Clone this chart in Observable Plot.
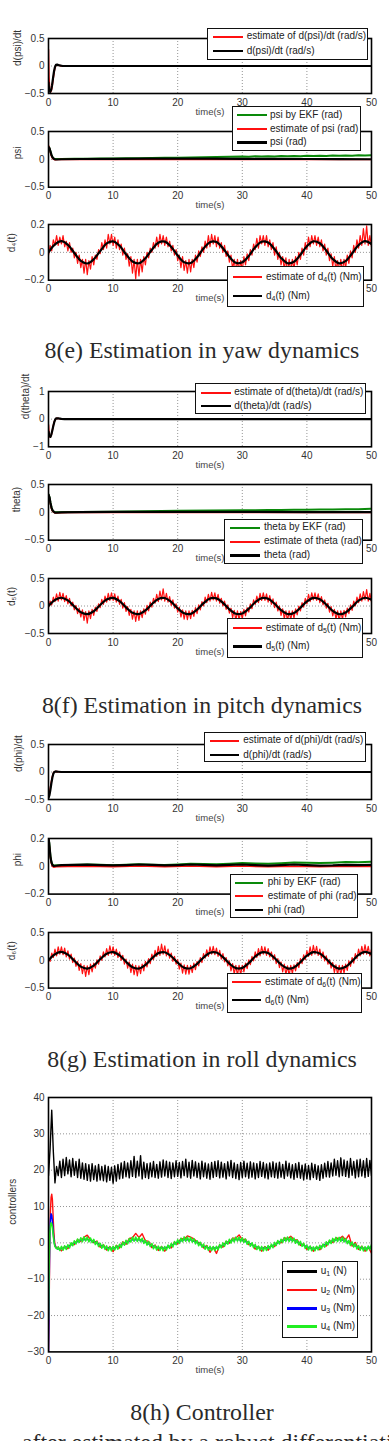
<!DOCTYPE html>
<html>
<head>
<meta charset="utf-8">
<script src="https://cdn.jsdelivr.net/npm/d3@7"></script>
<script src="https://cdn.jsdelivr.net/npm/@observablehq/plot@0.6"></script>
<style>
  html, body { margin: 0; padding: 0; background: #fff; }
  #root { position: relative; width: 389px; height: 1441px; overflow: hidden; background: #fff; }
  #root svg.panel { position: absolute; left: 0; overflow: visible; }
  .leg { position: absolute; box-sizing: border-box; border: 1.3px solid #111; background: #fff; }
  .sw { position: absolute; }
  .lt { position: absolute; font: 10px "Liberation Sans", Arial, sans-serif; line-height: 12px; color: #222; white-space: nowrap; }
  .lt sub { font-size: 7px; vertical-align: -2px; line-height: 0; }
</style>
</head>
<body>
<div id="root"></div>
<script>
// ---------- time axis ----------
const xTicks = [0, 10, 20, 30, 40, 50];
// tick labels left visible where a legend box sits over the axis
const xTicksOpen = [0, 10, 20, 50];

// ---------- yaw: d(psi)/dt, psi, d4 ----------
const dpsiEst = [[0,0.3],[0.08,-0.2],[0.2,-0.46],[0.35,-0.47],[0.5,-0.42],[0.65,-0.3],[0.8,-0.17],[0.95,-0.06],[1.1,0],[1.3,0.02],[1.6,0.015],[2,0],[50,0]];
const dpsi = [[0,-0.3],[0.1,-0.45],[0.25,-0.47],[0.4,-0.44],[0.55,-0.35],[0.7,-0.22],[0.85,-0.1],[1.0,-0.02],[1.15,0.02],[1.35,0.025],[1.7,0.01],[2.2,0],[50,0]];

const psiEKF = [[0,0.22],[0.15,0.2],[0.3,0.14],[0.45,0.08],[0.6,0.04],[0.8,0.015],[1.0,0.005],[1.5,0.005],[2,0.006],[4,0.009],[6,0.011],[8,0.013],[10,0.015],[12,0.018],[14,0.021],[16,0.024],[18,0.027],[20,0.03],[22,0.034],[24,0.038],[26,0.042],[28,0.046],[30,0.05],[31,0.047],[32,0.054],[33,0.05],[34,0.057],[35,0.052],[36,0.059],[37,0.054],[38,0.061],[39,0.056],[40,0.063],[41,0.058],[42,0.066],[43,0.061],[44,0.069],[45,0.063],[46,0.071],[47,0.066],[48,0.074],[49,0.069],[50,0.076]];
const psiEst = [[0,0.25],[0.15,0.19],[0.3,0.12],[0.45,0.06],[0.6,0.02],[0.8,0],[1.0,-0.008],[1.5,-0.005],[3,-0.004],[50,-0.004]];
const psi = [[0,0.22],[0.15,0.2],[0.3,0.14],[0.45,0.08],[0.6,0.04],[0.8,0.012],[1.0,0],[1.3,-0.003],[2,0.002],[5,0.006],[10,0.01],[15,0.012],[20,0.013],[25,0.012],[30,0.01],[35,0.008],[40,0.006],[45,0.004],[50,0.002]];

// estimate of d4, sampled every 0.25 s
const d4Est = [
-0.02,0.05,0.01,0.09,0.05,0.12,0.05,0.11,0.06,0.12,
0.04,0.08,0.01,0.07,0.00,0.03,-0.04,0.00,-0.08,-0.02,
-0.11,-0.05,-0.15,-0.05,-0.16,-0.06,-0.12,-0.03,-0.09,-0.02,
-0.05,0.02,-0.01,0.07,0.02,0.09,0.03,0.13,0.06,0.13,
0.05,0.11,0.03,0.09,0.02,0.06,-0.02,0.03,-0.05,-0.01,
-0.10,-0.03,-0.15,-0.05,-0.19,-0.05,-0.17,-0.05,-0.14,-0.03,
-0.09,0.00,-0.04,0.03,0.00,0.07,0.03,0.11,0.04,0.13,
0.06,0.12,0.05,0.11,0.04,0.08,0.01,0.05,-0.02,0.02,
-0.06,-0.02,-0.11,-0.03,-0.13,-0.06,-0.15,-0.05,-0.14,-0.05,
-0.11,-0.02,-0.07,0.01,-0.03,0.04,0.00,0.08,0.03,0.12,
0.04,0.13,0.06,0.12,0.04,0.11,0.03,0.07,0.00,0.05,
-0.03,0.01,-0.07,-0.02,-0.12,-0.05,-0.15,-0.05,-0.14,-0.06,
-0.13,-0.03,-0.09,-0.01,-0.06,0.02,-0.02,0.06,0.02,0.10,
0.03,0.12,0.06,0.12,0.05,0.12,0.04,0.09,0.02,0.07,
-0.02,0.04,-0.05,0.00,-0.09,-0.03,-0.12,-0.04,-0.15,-0.05,
-0.14,-0.05,-0.12,-0.03,-0.09,0.00,-0.05,0.03,-0.02,0.07,
0.02,0.11,0.04,0.12,0.06,0.12,0.05,0.11,0.04,0.09,
0.01,0.06,-0.02,0.03,-0.06,-0.01,-0.10,-0.03,-0.13,-0.06,
-0.15,-0.05,-0.14,-0.05,-0.11,-0.02,-0.08,0.01,-0.04,0.05,
0.00,0.09,0.03,0.12,0.05,0.17,0.06,0.19,0.05,0.12,
0.04];
// true d4, sampled every 1 s
const d4True = [0,0.057,0.080,0.054,-0.005,-0.061,-0.080,-0.050,0.009,0.064,0.079,0.047,-0.014,-0.066,-0.078,-0.043,0.019,0.069,0.077,0.039,-0.023,-0.071,-0.076,-0.035,0.027,0.073,0.074,0.030,-0.032,-0.075,-0.072,-0.026,0.036,0.076,0.070,0.022,-0.040,-0.078,-0.068,-0.017,0.044,0.079,0.065,0.013,-0.048,-0.079,-0.063,-0.008,0.052,0.080,0.060];

// ---------- pitch: d(theta)/dt, theta, d5 ----------
const dthetaEst = [[0,-0.2],[0.1,-0.55],[0.25,-0.66],[0.4,-0.6],[0.55,-0.45],[0.7,-0.28],[0.85,-0.13],[1.0,-0.03],[1.15,0.02],[1.4,0.03],[1.8,0.01],[2.5,0],[50,0]];
const dtheta = [[0,-0.45],[0.15,-0.62],[0.3,-0.64],[0.45,-0.55],[0.6,-0.4],[0.75,-0.24],[0.9,-0.1],[1.05,-0.01],[1.2,0.03],[1.5,0.03],[2,0.01],[2.5,0],[50,0]];

const thetaEKF = [[0,0.32],[0.15,0.27],[0.3,0.17],[0.45,0.09],[0.6,0.04],[0.8,0.01],[1.0,0],[1.5,0],[3,0.004],[5,0.006],[10,0.012],[15,0.018],[20,0.028],[25,0.032],[30,0.036],[32,0.036],[34,0.041],[36,0.04],[38,0.046],[40,0.045],[42,0.05],[44,0.049],[46,0.055],[48,0.056],[50,0.064]];
const thetaEst = [[0,0.3],[0.15,0.25],[0.3,0.15],[0.45,0.07],[0.6,0.025],[0.8,0],[1.0,-0.01],[1.5,-0.008],[3,-0.005],[50,-0.005]];
const theta = [[0,0.32],[0.15,0.27],[0.3,0.17],[0.45,0.09],[0.6,0.04],[0.8,0.012],[1.0,-0.005],[1.3,-0.006],[2,0],[5,0.004],[10,0.008],[20,0.01],[30,0.008],[40,0.005],[50,0.004]];

const d5Est = [
-0.03,0.09,0.02,0.16,0.08,0.22,0.09,0.25,0.11,0.23,
0.08,0.19,0.04,0.14,0.00,0.07,-0.07,0.01,-0.14,-0.04,
-0.20,-0.07,-0.26,-0.10,-0.31,-0.09,-0.23,-0.06,-0.17,-0.02,
-0.10,0.04,-0.03,0.12,0.03,0.18,0.07,0.23,0.10,0.24,
0.10,0.22,0.07,0.18,0.03,0.12,-0.04,0.06,-0.10,-0.01,
-0.17,-0.06,-0.24,-0.09,-0.28,-0.09,-0.26,-0.09,-0.21,-0.05,
-0.15,0.01,-0.09,0.07,-0.02,0.14,0.05,0.21,0.08,0.27,
0.11,0.31,0.09,0.23,0.07,0.17,0.01,0.11,-0.04,0.04,
-0.11,-0.02,-0.20,-0.07,-0.24,-0.09,-0.25,-0.09,-0.23,-0.08,
-0.19,-0.03,-0.14,0.02,-0.07,0.08,0.00,0.16,0.06,0.21,
0.09,0.25,0.11,0.24,0.09,0.21,0.05,0.14,0.00,0.09,
-0.06,0.02,-0.13,-0.04,-0.21,-0.08,-0.26,-0.09,-0.25,-0.10,
-0.23,-0.06,-0.18,-0.03,-0.11,0.04,-0.05,0.11,0.03,0.18,
0.06,0.23,0.10,0.24,0.10,0.22,0.07,0.19,0.03,0.13,
-0.03,0.07,-0.09,0.00,-0.17,-0.05,-0.23,-0.09,-0.27,-0.09,
-0.25,-0.09,-0.22,-0.05,-0.16,0.00,-0.09,0.06,-0.02,0.14,
0.04,0.21,0.08,0.24,0.11,0.24,0.10,0.22,0.06,0.17,
0.02,0.11,-0.04,0.05,-0.11,-0.01,-0.18,-0.06,-0.24,-0.09,
-0.27,-0.09,-0.24,-0.08,-0.20,-0.04,-0.14,0.02,-0.08,0.09,
0.00,0.16,0.06,0.22,0.09,0.26,0.11,0.30,0.09,0.23,
0.07];
const d5True = [0,0.108,0.150,0.101,-0.009,-0.114,-0.149,-0.095,0.018,0.119,0.148,0.088,-0.026,-0.124,-0.147,-0.081,0.035,0.129,0.145,0.073,-0.043,-0.133,-0.142,-0.065,0.051,0.137,0.139,0.057,-0.060,-0.140,-0.136,-0.049,0.068,0.143,0.132,0.041,-0.075,-0.146,-0.128,-0.032,0.083,0.147,0.123,0.024,-0.090,-0.149,-0.117,-0.015,0.097,0.150,0.112];

// ---------- roll: d(phi)/dt, phi, d6 ----------
const dphiEst = [[0,-0.43],[0.15,-0.38],[0.3,-0.28],[0.45,-0.17],[0.6,-0.08],[0.75,-0.02],[0.9,0.005],[1.2,0.01],[2,0],[50,0]];
const dphi = [[0,-0.47],[0.15,-0.42],[0.3,-0.32],[0.45,-0.2],[0.6,-0.1],[0.75,-0.03],[0.9,0],[1.1,0.01],[1.5,0.005],[2,0],[50,0]];

const phiEKF = [[0,0.2],[0.1,0.17],[0.2,0.12],[0.3,0.07],[0.45,0.03],[0.6,0.012],[0.8,0.006],[1.5,0.008],[3,0.01],[5,0.012],[6,0.013],[8,0.011],[10,0.008],[12,0.011],[14,0.015],[16,0.012],[18,0.01],[20,0.013],[22,0.018],[24,0.016],[26,0.014],[28,0.018],[30,0.023],[32,0.021],[34,0.019],[36,0.022],[38,0.027],[40,0.025],[42,0.023],[44,0.026],[46,0.031],[48,0.029],[50,0.033]];
const phiEst = [[0,0.2],[0.1,0.16],[0.2,0.11],[0.3,0.06],[0.45,0.02],[0.6,0],[0.8,-0.006],[1.2,-0.004],[3,-0.002],[6,0],[10,-0.004],[14,0.002],[18,-0.004],[22,0.003],[26,-0.003],[30,0.002],[34,-0.004],[38,0.001],[42,-0.004],[46,0],[50,-0.002]];
const phi = [[0,0.2],[0.1,0.17],[0.2,0.12],[0.3,0.07],[0.45,0.03],[0.6,0.01],[0.8,0.002],[1.2,0.004],[2,0.008],[4,0.01],[6,0.012],[8,0.009],[10,0.006],[12,0.009],[14,0.013],[16,0.01],[18,0.006],[20,0.009],[22,0.013],[24,0.01],[26,0.006],[28,0.01],[30,0.013],[32,0.009],[34,0.005],[36,0.009],[38,0.013],[40,0.009],[42,0.005],[44,0.006],[46,0.01],[48,0.008],[50,0.01]];

const d6Est = [
0.02,-0.02,0.13,0.05,0.20,0.08,0.24,0.11,0.24,0.10,
0.22,0.06,0.17,0.02,0.11,-0.04,0.04,-0.11,-0.02,-0.18,
-0.06,-0.24,-0.09,-0.29,-0.10,-0.26,-0.07,-0.21,-0.05,-0.14,
0.01,-0.07,0.08,0.00,0.15,0.06,0.21,0.09,0.26,0.11,
0.24,0.09,0.20,0.05,0.15,0.00,0.09,-0.07,0.02,-0.14,
-0.03,-0.22,-0.07,-0.26,-0.09,-0.28,-0.10,-0.24,-0.07,-0.19,
-0.02,-0.12,0.03,-0.06,0.11,0.01,0.18,0.07,0.25,0.09,
0.29,0.11,0.26,0.08,0.20,0.04,0.13,-0.02,0.07,-0.07,
0.01,-0.16,-0.05,-0.23,-0.08,-0.25,-0.09,-0.25,-0.09,-0.22,
-0.05,-0.17,-0.02,-0.10,0.05,-0.04,0.12,0.04,0.19,0.07,
0.24,0.11,0.25,0.10,0.22,0.07,0.18,0.02,0.12,-0.03,
0.05,-0.10,-0.01,-0.19,-0.06,-0.25,-0.09,-0.27,-0.09,-0.26,
-0.09,-0.21,-0.05,-0.15,0.01,-0.08,0.07,-0.01,0.15,0.05,
0.21,0.08,0.25,0.11,0.24,0.09,0.21,0.06,0.15,0.01,
0.10,-0.06,0.03,-0.13,-0.03,-0.21,-0.07,-0.26,-0.10,-0.28,
-0.09,-0.24,-0.08,-0.19,-0.04,-0.13,0.03,-0.06,0.10,0.01,
0.17,0.07,0.24,0.09,0.27,0.11,0.25,0.09,0.20,0.04,
0.15,-0.01,0.08,-0.07,0.01,-0.14,-0.04,-0.22,-0.08,-0.26,
-0.09,-0.26,-0.09,-0.23,-0.07,-0.18,-0.01,-0.11,0.05,-0.05,
0.12,0.03,0.20,0.08,0.25,0.11,0.28,0.11,0.25,0.08,
0.20];
const d6True = [0,0.108,0.150,0.101,-0.009,-0.114,-0.149,-0.095,0.018,0.119,0.148,0.088,-0.026,-0.124,-0.147,-0.081,0.035,0.129,0.145,0.073,-0.043,-0.133,-0.142,-0.065,0.051,0.137,0.139,0.057,-0.060,-0.140,-0.136,-0.049,0.068,0.143,0.132,0.041,-0.075,-0.146,-0.128,-0.032,0.083,0.147,0.123,0.024,-0.090,-0.149,-0.117,-0.015,0.097,0.150,0.112];

// ---------- controllers ----------
// u1 every 0.25 s from t = 0
const u1 = [
18.5,26,36.5,25,16.5,21,18.5,22.5,18,23,
18.5,23.5,19,22.8,18.2,23.2,18.6,22.4,18,23,
17.8,22,17.5,21.8,17.2,21.5,17,21.8,17.4,21.2,
17,21.6,17.3,21,17.1,21.4,16.8,21,17.2,20.8,
16.4,21.2,17,21.6,17.6,22,17.8,22.4,18.2,22,
17.9,22.6,18.3,23.8,18,22.5,18.4,24,17.6,22.2,
18,21.8,17.7,22,18.2,22.4,18,21.6,17.8,22.3,
18.1,22.8,18.4,22.5,18,22.2,17.7,22,18.2,22.6,
18.3,22.1,17.9,22.4,18.5,23,18.1,22.2,17.8,22.7,
18.4,22.3,18,21.9,17.6,22.5,18.2,22,17.8,21.7,
17.5,22.1,18,22.4,18.3,22.6,17.9,22.2,18.1,21.8,
17.6,22.3,18.4,22.7,18,22,17.7,21.6,17.4,22.1,
18,22.5,18.2,21.9,17.8,22.3,18.1,22,17.6,21.8,
18,22.4,18.3,22.1,17.9,21.7,17.6,22,18.2,22.3,
18,21.9,17.8,22.2,18.1,21.6,17.7,22.5,18.4,21.9,
17.9,21.5,17.5,21.8,18,22.1,17.8,21.4,17.3,21.7,
17.6,21.3,17.4,21.9,18,21.6,17.5,21.2,17.2,21.5,
17.8,21.9,18.2,22.4,18.1,22,18.4,23,18.6,22.6,
18.2,23.4,18.5,22.8,18.3,22.5,18,23.2,18.6,22.4,
17.9,22.8,18.2,23,18.4,22.6,18,23.2,18.3,22.7,
18.5];
// start-up transient of u2, u3, u4
const uHeadT = [0,0.1,0.2,0.3,0.4,0.5,0.6,0.7,0.8,0.9,1.0,1.2,1.4];
const u2Head = [-30,-18,0,9,12.5,13.4,12,8,4,1.2,-0.5,-1.3,-1.6];
const u3Head = [-30,-12,2,6.5,8,7.6,6,3.5,1.5,0,-0.8,-1.4,-1.7];
const u4Head = [-21,-6,2.5,4.8,5.5,5.2,4.2,2.6,1.0,-0.2,-1.0,-1.5,-1.7];
// u2 every 0.5 s from t = 1.5
const u2Tail = [
-1.2,-2.2,-1.0,-1.6,-0.3,-0.5,0.9,0.4,1.6,2.1,
0.9,0.1,0.5,-1.2,-0.5,-2.0,-1.0,-2.4,-0.7,-1.4,
0.3,-0.4,1.2,1.4,2.6,1.5,2.5,0.6,0.4,-1.3,
-0.6,-2.1,-1.0,-2.3,-0.9,-1.4,0.2,-0.3,1.2,1.0,
1.9,1.6,1.1,0.3,-0.1,-1.4,-0.7,-2.6,-1.1,-2.9,
-0.6,-1.2,0.4,-0.1,1.3,1.3,2.2,0.9,1.0,-0.5,
-0.2,-1.7,-1.0,-2.3,-1.0,-2.0,-0.7,-1.0,0.4,0.0,
1.4,1.1,1.8,0.9,0.8,-0.7,-0.3,-1.8,-1.0,-2.3,
-1.1,-1.9,-0.5,-0.9,0.6,0.1,1.4,1.1,1.8,0.8,
2.2,-0.9,0.1,-1.8,-0.9,-2.3,-1.2,-2.8];
// u3 every 1 s from t = 2
const u3Tail = [-1.58,-1.03,-0.04,0.79,0.97,0.37,-0.63,-1.43,-1.55,-0.90,0.11,0.87,0.92,0.23,-0.78,-1.50,-1.50,-0.77,0.25,0.93,0.86,0.09,-0.91,-1.55,-1.43,-0.62,0.38,0.97,0.79,-0.05,-1.04,-1.58,-1.35,-0.47,0.50,0.99,0.70,-0.20,-1.16,-1.60,-1.25,-0.32,0.62,1.0,0.59,-0.35,-1.27,-1.60,-1.13];
// u4 every 0.25 s from t = 1.5
const u4Tail = [
-1.07,-2.1,-0.98,-2.01,-0.79,-1.83,-0.53,-1.41,0.04,-0.8,
0.56,-0.29,1.03,0.13,1.39,0.31,1.68,0.5,1.57,0.28,
1.35,0.08,0.97,-0.46,0.38,-0.98,-0.13,-1.48,-0.5,-1.78,
-0.83,-2.14,-1.09,-2.19,-0.95,-1.95,-0.7,-1.72,-0.4,-1.26,
0.19,-0.65,0.71,-0.26,1.15,0.23,1.57,0.46,1.6,0.39,
1.52,0.31,1.25,-0.14,0.73,-0.61,0.33,-1.03,-0.18,-1.61,
-0.71,-1.98,-0.9,-2.08,-1.0,-2.17,-1.0,-1.97,-0.61,-1.5,
-0.17,-1.12,0.34,-0.5,0.85,-0.13,1.26,0.32,1.63,0.49,
1.6,0.35,1.46,0.22,1.15,-0.27,0.59,-0.76,0.18,-1.17,
-0.31,-1.73,-0.81,-2.05,-0.95,-2.1,-0.99,-2.13,-0.93,-1.88,
-0.48,-1.36,-0.02,-0.96,0.49,-0.35,0.98,-0.01,1.26,0.29,
1.57,0.5,1.58,0.31,1.39,0.12,1.03,-0.4,0.45,-0.91,
0.03,-1.32,-0.44,-1.84,-0.9,-2.12,-0.98,-2.2,-1.06,-2.08,
-0.75,-1.67,-0.36,-1.33,0.13,-0.71,0.64,-0.31,1.0,0.09,
1.44,0.44,1.59,0.39,1.54,0.34,1.3,-0.09,0.79,-0.55,
0.4,-0.96,-0.11,-1.55,-0.66,-1.94,-0.87,-2.16,-1.1,-2.18,
-0.92,-1.91,-0.65,-1.65,-0.32,-1.18,0.28,-0.56,0.79,-0.18,
1.22,0.28,1.5,0.38,1.5,0.37,1.49,0.26,1.19,-0.21,
0.66,-0.7,0.25,-1.11,-0.26,-1.68,-0.77,-2.02,-0.93,-2.19,
-1.1,-2.15,-0.86,-1.82,-0.53];

// ---------- captions ----------
const captions = ["8(e) Estimation in yaw dynamics", "8(f) Estimation in pitch dynamics", "8(g) Estimation in roll dynamics", "8(h) Controller"];
const trailingLine = "after estimated by a robust differentiation it is t";

// ---------- helpers ----------
const RED = "#ff1010", BLACK = "#000", EKF = "#0a8a0a", BLUE = "#0000ff", LIME = "#22ee22";
const pairs = arr => arr.map(([t, v]) => ({t, v}));
const sampled = (vals, t0, step) => vals.map((v, i) => ({t: t0 + i * step, v}));
const withHead = (ts, head, tail, t0, step) => ts.map((t, i) => ({t, v: head[i]})).concat(sampled(tail, t0, step));
const fmt = d => (d < 0 ? "\u2212" : "") + Math.abs(d);

const root = document.getElementById("root");

function panel(cfg) {
  const mt = 12, mb = 34;
  const inner = cfg.yTicks.slice(1, -1);
  const marks = [
    Plot.gridX(xTicks.slice(1, -1), {stroke: "#888", strokeOpacity: 1, strokeWidth: 0.9, strokeDasharray: "1,2"}),
    Plot.gridY(inner, {stroke: "#888", strokeOpacity: 1, strokeWidth: 0.9, strokeDasharray: "1,2"}),
    ...cfg.lines.map(s => Plot.line(s.data, {x: "t", y: "v", stroke: s.color, strokeWidth: s.w, curve: s.curve || "linear", clip: true})),
    Plot.frame({stroke: "#000", strokeWidth: 1.6}),
    Plot.text(["time(s)"], {frameAnchor: "bottom", dy: 21, fontSize: 9.5, fill: "#444"}),
    Plot.text([cfg.label], {frameAnchor: "left", dx: cfg.labelX - 48, rotate: -90, fontSize: 10, fill: "#333"})
  ];
  const svg = Plot.plot({
    width: 389, height: mt + cfg.h + mb,
    marginLeft: 48, marginRight: 18, marginTop: mt, marginBottom: mb,
    style: {fontFamily: "'Liberation Sans', Arial, sans-serif", fontSize: "10px", color: "#333", background: "transparent", overflow: "visible"},
    x: {domain: [0, 50], ticks: cfg.xLabels || xTicks, tickSize: 0, tickPadding: 5, tickFormat: fmt, label: null},
    y: {domain: cfg.yDomain, ticks: cfg.yTicks, tickSize: 0, tickPadding: 4, tickFormat: fmt, label: null},
    marks
  });
  svg.classList.add("panel");
  svg.style.top = (cfg.top - mt) + "px";
  root.appendChild(svg);
}

const panels = [
  {top: 37.7, h: 55, yDomain: [-0.5, 0.5], yTicks: [-0.5, 0, 0.5], label: "d(psi)/dt", labelX: 17, lines: [
    {data: pairs(dpsiEst), color: RED, w: 1.5}, {data: pairs(dpsi), color: BLACK, w: 2.2}]},
  {top: 131, h: 55.7, yDomain: [-0.5, 0.5], yTicks: [-0.5, 0, 0.5], label: "psi", labelX: 17, lines: [
    {data: pairs(psiEKF), color: EKF, w: 2}, {data: pairs(psiEst), color: RED, w: 1.5}, {data: pairs(psi), color: BLACK, w: 2.2}]},
  {top: 224.3, h: 55.7, yDomain: [-0.2, 0.2], yTicks: [-0.2, 0, 0.2], label: "d\u2084(t)", labelX: 11, xLabels: xTicksOpen, lines: [
    {data: sampled(d4Est, 0, 0.25), color: RED, w: 1.2}, {data: sampled(d4True, 0, 1), color: BLACK, w: 2.2, curve: "catmull-rom"}]},
  {top: 390.7, h: 55.3, yDomain: [-1, 1], yTicks: [-1, 0, 1], label: "d(theta)/dt", labelX: 25, lines: [
    {data: pairs(dthetaEst), color: RED, w: 1.5}, {data: pairs(dtheta), color: BLACK, w: 2.2}]},
  {top: 484.3, h: 55.7, yDomain: [-0.5, 0.5], yTicks: [-0.5, 0, 0.5], label: "theta)", labelX: 16, xLabels: xTicksOpen, lines: [
    {data: pairs(thetaEKF), color: EKF, w: 2}, {data: pairs(thetaEst), color: RED, w: 1.5}, {data: pairs(theta), color: BLACK, w: 2.2}]},
  {top: 578.3, h: 55, yDomain: [-0.5, 0.5], yTicks: [-0.5, 0, 0.5], label: "d\u2085(t)", labelX: 11, xLabels: xTicksOpen, lines: [
    {data: sampled(d5Est, 0, 0.25), color: RED, w: 1.2}, {data: sampled(d5True, 0, 1), color: BLACK, w: 2.2, curve: "catmull-rom"}]},
  {top: 744, h: 55, yDomain: [-0.5, 0.5], yTicks: [-0.5, 0, 0.5], label: "d(phi)/dt", labelX: 18, lines: [
    {data: pairs(dphiEst), color: RED, w: 1.5}, {data: pairs(dphi), color: BLACK, w: 2.2}]},
  {top: 837.7, h: 55.6, yDomain: [-0.2, 0.2], yTicks: [-0.2, 0, 0.2], label: "phi", labelX: 17, xLabels: xTicksOpen, lines: [
    {data: pairs(phiEKF), color: EKF, w: 2}, {data: pairs(phiEst), color: RED, w: 1.5}, {data: pairs(phi), color: BLACK, w: 2.2}]},
  {top: 931.7, h: 55.6, yDomain: [-0.5, 0.5], yTicks: [-0.5, 0, 0.5], label: "d\u2086(t)", labelX: 11, xLabels: xTicksOpen, lines: [
    {data: sampled(d6Est, 0, 0.25), color: RED, w: 1.2}, {data: sampled(d6True, 0, 1), color: BLACK, w: 2.2, curve: "catmull-rom"}]},
  {top: 1097.3, h: 254.4, yDomain: [-30, 40], yTicks: [-30, -20, -10, 0, 10, 20, 30, 40], label: "controllers", labelX: 12, lines: [
    {data: sampled(u1, 0, 0.25), color: BLACK, w: 1.4},
    {data: withHead(uHeadT, u2Head, u2Tail, 1.5, 0.5), color: RED, w: 1.4},
    {data: withHead(uHeadT, u3Head, u3Tail, 2, 1), color: BLUE, w: 1.5},
    {data: withHead(uHeadT, u4Head, u4Tail, 1.5, 0.25), color: LIME, w: 1.6}]}
];
panels.forEach(panel);

// ---------- captions (serif, centred under each group) ----------
const capSvg = d3.select(root).append("svg")
  .attr("width", 389).attr("height", 1441)
  .style("position", "absolute").style("left", 0).style("top", 0).style("pointer-events", "none");
const capY = [358, 713, 1067, 1420];
const capText = capSvg.selectAll("text.cap").data(captions).join("text")
  .attr("class", "cap")
  .attr("x", 202).attr("y", (d, i) => capY[i])
  .attr("text-anchor", "middle")
  .attr("fill", "#2a2a2a")
  .style("font-family", "'Liberation Serif', 'DejaVu Serif', serif")
  .style("font-size", "20px")
  .text(d => d);
// size the serif face so the first caption spans its column
const w0 = capText.node().getComputedTextLength();
const capSize = 20 * 315 / w0;
capText.style("font-size", capSize + "px");
capSvg.append("text")
  .attr("x", 22).attr("y", 1450)
  .attr("fill", "#2a2a2a")
  .style("font-family", "'Liberation Serif', 'DejaVu Serif', serif")
  .style("font-size", capSize + "px")
  .text(trailingLine);

// ---------- legends ----------
const legends = [
  {box: [207, 28, 161, 31.5], line: [213, 243], tx: 246.7, ys: [36.7, 51], items: [
    ["estimate of d(psi)/dt (rad/s)", RED, 2], ["d(psi)/dt (rad/s)", BLACK, 2.5]]},
  {box: [231.7, 106, 129.3, 45], line: [237, 266.7], tx: 270, ys: [115, 129, 142.7], items: [
    ["psi by EKF (rad)", EKF, 2.2], ["estimate of psi (rad)", RED, 2], ["psi (rad)", BLACK, 2.5]]},
  {box: [227.3, 266, 136.7, 41.3], line: [233, 261.7], tx: 266, ys: [277.3, 296], items: [
    ["estimate of d<sub>4</sub>(t) (Nm)", RED, 2], ["d<sub>4</sub>(t) (Nm)", BLACK, 2.5]]},
  {box: [195, 383.3, 170.7, 30.7], line: [201, 230.7], tx: 234.3, ys: [392.7, 406], items: [
    ["estimate of d(theta)/dt (rad/s)", RED, 2], ["d(theta)/dt (rad/s)", BLACK, 2.5]]},
  {box: [224, 519, 139.3, 45], line: [230, 260], tx: 264, ys: [527.7, 541.7, 555.7], items: [
    ["theta by EKF (rad)", EKF, 2.2], ["estimate of theta (rad)", RED, 2], ["theta (rad)", BLACK, 2.5]]},
  {box: [226.7, 617.7, 136.6, 40.6], line: [232.7, 261.7], tx: 265.7, ys: [628.3, 646.7], items: [
    ["estimate of d<sub>5</sub>(t) (Nm)", RED, 2], ["d<sub>5</sub>(t) (Nm)", BLACK, 2.5]]},
  {box: [204, 731.7, 161.7, 30.6], line: [210, 239.3], tx: 243.3, ys: [740.7, 755], items: [
    ["estimate of d(phi)/dt (rad/s)", RED, 2], ["d(phi)/dt (rad/s)", BLACK, 2.5]]},
  {box: [230, 874.3, 128.3, 44], line: [235, 263.3], tx: 267.7, ys: [882.7, 896, 910], items: [
    ["phi by EKF (rad)", EKF, 2.2], ["estimate of phi (rad)", RED, 2], ["phi (rad)", BLACK, 2.5]]},
  {box: [226.7, 972.7, 135.6, 40.6], line: [232.3, 260.7], tx: 265, ys: [982.3, 1000], items: [
    ["estimate of d<sub>6</sub>(t) (Nm)", RED, 2], ["d<sub>6</sub>(t) (Nm)", BLACK, 2.5]]},
  {box: [281.7, 1261, 76.6, 77.3], line: [287.3, 316.7], tx: 320.7, ys: [1271.7, 1290, 1308.3, 1326.7], items: [
    ["u<sub>1</sub> (N)", BLACK, 2.5], ["u<sub>2</sub> (Nm)", RED, 2.5], ["u<sub>3</sub> (Nm)", BLUE, 2.5], ["u<sub>4</sub> (Nm)", LIME, 2.5]]}
];

for (const L of legends) {
  const [bx, by, bw, bh] = L.box;
  const box = document.createElement("div");
  box.className = "leg";
  Object.assign(box.style, {left: bx + "px", top: by + "px", width: bw + "px", height: bh + "px"});
  root.appendChild(box);
  L.items.forEach(([label, color, w], i) => {
    const y = L.ys[i];
    const sw = document.createElement("div");
    sw.className = "sw";
    Object.assign(sw.style, {left: L.line[0] + "px", width: (L.line[1] - L.line[0]) + "px", top: (y - w / 2) + "px", height: w + "px", background: color});
    root.appendChild(sw);
    const tx = document.createElement("div");
    tx.className = "lt";
    tx.innerHTML = label;
    Object.assign(tx.style, {left: L.tx + "px", top: (y - 6.5) + "px"});
    root.appendChild(tx);
  });
}
</script>
</body>
</html>
